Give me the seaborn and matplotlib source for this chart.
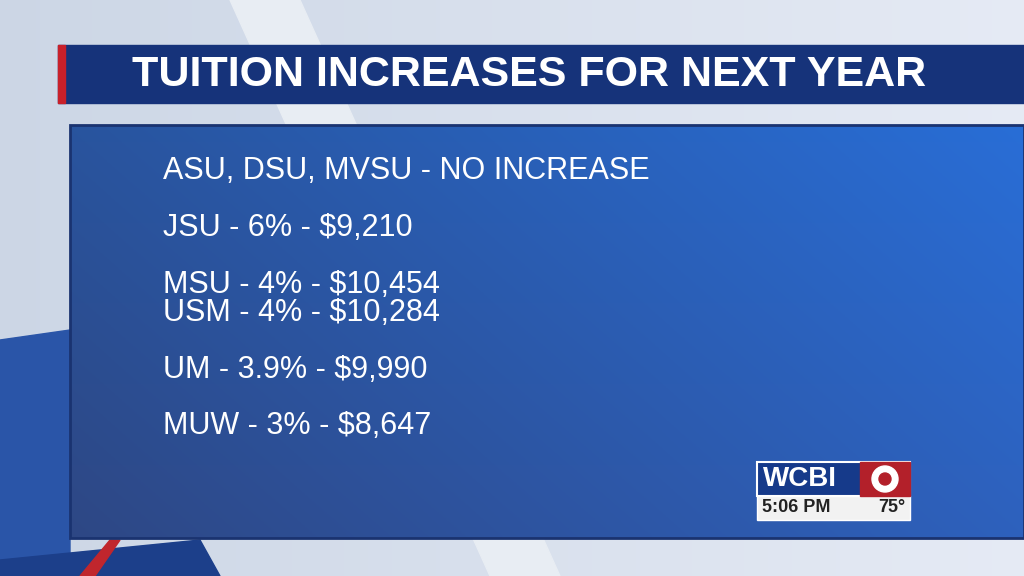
import matplotlib
matplotlib.use("Agg")
import matplotlib.pyplot as plt
import numpy as np
import seaborn as sns
from matplotlib.patches import Rectangle, Polygon

sns.set_style("white")
plt.rcParams['font.family'] = ['Liberation Sans', 'DejaVu Sans']

title = "TUITION INCREASES FOR NEXT YEAR"
schools = ["ASU, DSU, MVSU", "JSU", "MSU", "USM", "UM", "MUW"]
pcts = ["NO INCREASE", "6%", "4%", "4%", "3.9%", "3%"]
costs = ["", "$9,210", "$10,454", "$10,284", "$9,990", "$8,647"]
line_y = [171, 228, 285, 313, 370, 426]

fig = plt.figure(figsize=(10.24, 5.76), dpi=100)
ax = fig.add_axes([0, 0, 1, 1])
ax.set_xlim(0, 1024); ax.set_ylim(576, 0); ax.axis("off")

bg = np.linspace(0, 1, 256)[None, :]
ax.imshow(np.dstack([0.80 + 0.1*bg, 0.84 + 0.08*bg, 0.90 + 0.06*bg]), extent=[0, 1024, 576, 0], aspect="auto", zorder=0)
ax.add_patch(Polygon([[230, 0], [300, 0], [560, 576], [490, 576]], color="#e8edf3", zorder=1))
ax.add_patch(Polygon([[0, 340], [70, 330], [70, 576], [0, 576]], color="#2a55a8", zorder=1))
ax.add_patch(Polygon([[0, 560], [200, 540], [220, 576], [0, 576]], color="#1c3f8a", zorder=1))
ax.add_patch(Polygon([[80, 576], [110, 540], [120, 540], [95, 576]], color="#c0262d", zorder=1))

gx = np.linspace(0, 1, 256)[None, :]
gy = np.linspace(0, 1, 256)[:, None]
r = 0.16 + 0.0*gx + 0.02*gy
g = 0.33 + 0.10*gx - 0.05*gy
b = 0.62 + 0.22*gx - 0.1*gy
ax.imshow(np.dstack([r + 0*gx, g, np.clip(b, 0, 1)]), extent=[70, 1024, 538, 125], aspect="auto", zorder=2)
ax.add_patch(Rectangle((70, 125), 954, 413, fill=False, ec="#1a3370", lw=2, zorder=3))

ax.add_patch(Rectangle((58, 45), 966, 58, color="#16337a", zorder=3))
ax.add_patch(Rectangle((58, 45), 7, 58, color="#c8202a", zorder=4))
ax.text(529, 75, title, color="white", fontsize=31, fontweight="bold", ha="center", va="center", zorder=5)

for s, p, c, y in zip(schools, pcts, costs, line_y):
    txt = f"{s} - {p}" + (f" - {c}" if c else "")
    ax.text(163, y, txt, color="white", fontsize=22, ha="left", va="center", zorder=5)

ax.add_patch(Rectangle((757, 462), 153, 34, color="#163a8a", ec="white", lw=1.5, zorder=5))
ax.add_patch(Rectangle((860, 462), 50, 34, color="#b3202a", zorder=6))
ax.text(800, 479, "WCBI", color="white", fontsize=20, fontweight="bold", ha="center", va="center", zorder=7)
ax.add_patch(plt.Circle((885, 479), 13, color="white", zorder=7))
ax.add_patch(plt.Circle((885, 479), 6, color="#b3202a", zorder=8))
ax.add_patch(Rectangle((757, 496), 153, 24, color="#f2f2f2", ec="white", zorder=5))
ax.text(762, 508, "5:06 PM", color="#222222", fontsize=13, fontweight="bold", ha="left", va="center", zorder=7)
ax.text(905, 508, "75°", color="#222222", fontsize=13, fontweight="bold", ha="right", va="center", zorder=7)

fig.savefig("out.png", dpi=100)
